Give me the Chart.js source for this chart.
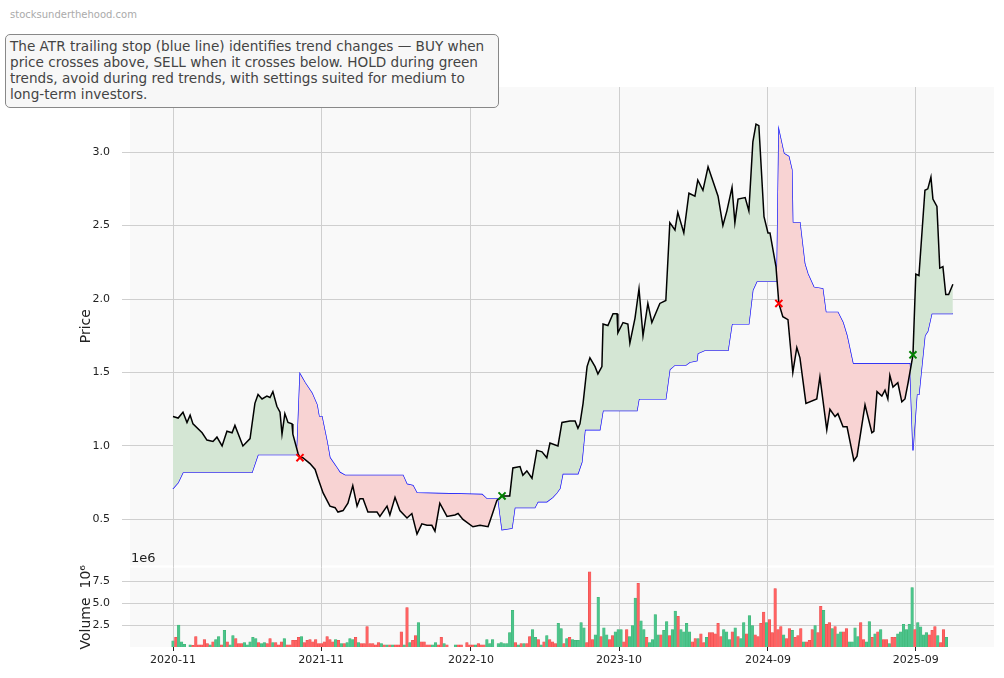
<!DOCTYPE html>
<html><head><meta charset="utf-8">
<script src="https://cdn.jsdelivr.net/npm/chart.js@4"></script>
<style>
body{margin:0;width:1004px;height:678px;background:#fff;position:relative;overflow:hidden;font-family:"DejaVu Sans",sans-serif}
#wm{position:absolute;left:10px;top:9px;font-size:10px;color:#aaa}
#box{position:absolute;left:5px;top:34px;width:484px;height:64px;border:1px solid #888;border-radius:5px;background:#f7f7f7;padding:3px 4px 5px 4px;font-size:13.6px;line-height:16px;color:#444}
#e6{position:absolute;left:131px;top:550px;font-size:13px;color:#222}
canvas{position:absolute;left:0}
</style></head><body>
<div id="wm">stocksunderthehood.com</div>
<canvas id="pc" width="1004" height="584" style="top:0"></canvas>
<canvas id="vc" width="1004" height="129" style="top:549px"></canvas>
<div id="box">The ATR trailing stop (blue line) identifies trend changes — BUY when price crosses above, SELL when it crosses below. HOLD during green trends, avoid during red trends, with settings suited for medium to long-term investors.</div>
<div id="e6">1e6</div>
<script>
// weeks since 2020-11 start
const priceWeeks=[0,1.8,3.5,4.9,6,7,10.2,11.9,14,15.4,17.2,18.9,20.7,21.7,24.5,27,28.7,29.8,31.2,32.9,34,35,36.4,37.5,38.2,39.2,40.3,41.7,42,43.8,44.5,45.5,48,49.8,50.8,52.6,55,56.8,57.8,59.6,61.3,63,64.5,65.5,66.6,68.3,71.5,72.5,75,76,77.8,79.5,82,83.7,85.5,87.2,89,90.7,91.8,93.5,96,98.8,99.9,101.6,105.1,107.6,110.4,111.8,113.5,115.3,118,119.1,121.6,122.6,124,125.8,127.5,129.3,131,132.1,134.9,136.3,139.1,140.9,141.9,142.6,143.7,145.1,146.1,147.9,148.9,150.3,150.7,152.4,154.2,155.6,155.9,157.7,159.4,160.1,161.9,163.3,164.7,166.4,167.8,170.6,172.7,174.1,175.9,176.9,179,180.8,182.9,183.9,185.7,187.5,191,192.7,194.1,195.9,196.9,198,200.5,201.8,203.2,204.3,205.3,207.1,208.5,209.2,211.3,212.3,213.7,215.5,217.2,218.6,219.7,221.8,225.6,226.7,229.1,230.2,232,233,234.8,236.2,238.6,239.7,242.5,244.9,245.6,246.7,248.4,249.5,250.5,251.2,252.3,254,255.4,256.5,257.6,259.3,260.3,261.4,263.5,264.5,265.6,266.3,267.7,268.7,269.8,270.8,271.8,273.3];
const priceVals=[1.20,1.19,1.23,1.16,1.21,1.15,1.09,1.04,1.03,1.06,1.00,1.10,1.09,1.14,1.00,1.05,1.29,1.35,1.32,1.34,1.33,1.37,1.27,1.23,1.08,1.22,1.16,1.15,1.08,0.95,0.92,0.92,0.88,0.84,0.78,0.68,0.59,0.58,0.55,0.56,0.61,0.73,0.59,0.64,0.64,0.55,0.55,0.52,0.59,0.53,0.65,0.56,0.51,0.54,0.40,0.47,0.46,0.46,0.42,0.61,0.52,0.53,0.54,0.50,0.45,0.46,0.45,0.53,0.63,0.66,0.66,0.85,0.86,0.80,0.83,0.78,0.97,0.96,0.92,1.02,1.00,1.16,1.17,1.17,1.12,1.15,1.29,1.54,1.60,1.54,1.49,1.54,1.83,1.82,1.90,1.90,1.77,1.84,1.83,1.70,1.87,2.07,1.75,1.97,1.84,1.97,1.99,2.52,2.47,2.59,2.45,2.72,2.70,2.81,2.74,2.90,2.70,2.50,2.60,2.76,2.52,2.68,2.69,2.60,3.07,3.19,3.18,2.56,2.45,2.45,2.22,1.97,1.88,1.86,1.50,1.67,1.60,1.29,1.32,1.47,1.11,1.25,1.20,1.22,1.13,1.13,0.90,0.93,1.28,1.09,1.10,1.37,1.34,1.38,1.32,1.48,1.40,1.43,1.30,1.32,1.43,1.62,2.17,2.16,2.74,2.75,2.83,2.68,2.63,2.21,2.22,2.03,2.03,2.10];
const stopWeeks=[0,1.8,3.5,27.7,29.8,43.4,44.5,46.3,48.7,50.5,51.2,52.2,54,55,57.5,58.5,60.3,80.6,82,84.1,85.5,108.3,110,113.9,115.3,118.8,119.8,126.8,127.9,131,133.1,134.5,135.6,136.6,141.9,143.3,144.4,149.6,150.7,162.6,163.3,172.7,174.1,175.9,179.7,181.1,183.6,183.9,186.3,194.5,195.9,201.8,203.2,204.6,211.6,212.3,214.1,215.8,216.9,217.2,219.7,221.4,222.5,224.6,227.7,228.8,233,234.8,236.2,238.3,258.2,259.3,260.7,261.4,263.5,264.5,265.9,273.3];
const stopVals=[0.71,0.75,0.82,0.82,0.94,0.94,1.49,1.43,1.36,1.28,1.20,1.20,1.03,0.92,0.85,0.82,0.80,0.80,0.74,0.73,0.68,0.67,0.64,0.64,0.43,0.44,0.58,0.58,0.62,0.62,0.65,0.68,0.71,0.81,0.81,0.89,1.11,1.11,1.24,1.24,1.32,1.32,1.52,1.55,1.55,1.57,1.58,1.63,1.65,1.65,1.83,1.83,2.06,2.12,2.12,3.15,2.99,2.97,2.88,2.52,2.52,2.24,2.17,2.08,2.07,1.91,1.91,1.84,1.75,1.56,1.56,0.97,1.35,1.35,1.75,1.78,1.90,1.90];
const sellWeeks=[44.5,212.3], sellVals=[0.92,1.97];
const buyWeeks=[115.3,259.3], buyVals=[0.66,1.62];
// weekly volume in millions, and direction (u=up week, d=down week)
const volumes=[0.7,1.1,2.5,0.6,0.3,0,0.25,0.2,1.2,0.25,0.25,0.85,0.4,0.25,0.6,0.85,1.2,0.25,1.9,0.6,0.25,1.3,0.95,0.4,0.4,0.5,0.25,0.6,1.1,0.95,0.5,0.4,0.5,0.4,0.95,0.5,0.5,0.25,0.6,0.95,0.25,0.25,0.75,0.75,1.1,1.2,0.5,0.75,0.85,0.6,0.85,0.4,0.4,0.6,1.2,0.85,0.6,0.85,0.75,0.4,0.4,0.5,0.95,0.85,1.1,0.5,0.4,0.4,2.35,0.4,0.4,0.25,0.5,0.4,0.25,0.25,0.25,0.25,0.25,0.25,1.75,0.25,4.5,0.5,0.75,1.3,2.8,0.6,0.6,0.25,0.25,0.25,0.5,0.25,1.1,0.4,0.25,0,0,0.25,0.25,0.25,0,0.5,0.25,0.25,0.25,0.4,0.25,0.25,0.85,0.4,0.85,0,0.4,0.5,0.4,0.4,1.65,4.2,0.5,0.25,0.4,0.4,0.4,1.2,2.0,1.1,0.85,0.25,0.6,1.3,0.85,0.6,0.4,2.7,2.1,0.4,0.95,1.1,0.85,0.75,0.75,2.8,2.2,0.5,8.6,0.85,1.4,5.7,1.2,2.2,1.4,0.85,1.3,1.75,2.0,2.0,0.6,2.0,1.2,2.45,5.6,7.3,3.0,2.0,1.1,0.5,0.85,3.7,1.4,1.4,1.9,2.9,1.3,2.0,4.1,3.5,2.0,1.75,2.7,1.75,0.6,0.95,0.95,1.5,0.5,1.1,1.65,1.65,1.5,2.7,1.2,2.0,1.75,0.85,1.75,2.2,1.2,0.95,2.8,1.5,3.6,2.45,1.4,1.2,2.7,4.0,2.8,3.15,1.65,6.7,2.0,2.35,1.4,0.95,2.1,1.9,1.1,1.3,2.1,0.6,0.6,0.75,2.0,2.45,1.65,4.65,4.2,2.6,2.8,2.1,2.35,1.5,1.75,1.75,2.1,0.6,0.6,2.2,1.2,2.8,0.85,0.6,2.9,1.1,1.5,1.75,2.0,0.85,0.85,0.4,1.1,1.1,1.5,1.75,2.6,2.0,2.6,6.8,2.0,2.8,2.3,1.4,1.65,1.4,1.9,2.35,1.3,0.5,2.0,1.1];
const volDir="uduuuuuddd"+"ddduduudud"+"uuddduuuuu"+"duuddudddu"+"dddddudddd"+"dddddddudu"+"duuududddd"+"dddudududd"+"dududduddd"+"duuddudddu"+
 "dddddduddd"+"uuuuuuuuuu"+"dududduudu"+"duddduudud"+"uuuuuddduu"+"duudduuudd"+"uuuduuduuu"+"uduuduuduu"+"uudduddudd"+"ddduuududu"+
 "uduuddddud"+"dddduddudd"+"duddduddud"+"duduudduuu"+"udduududud"+"dudduuuuuu"+"duuuuddduddu";
const tickWeeks=[0,51.9,104.4,156.3,208.5,260.3];
const tickLabels=["2020-11","2021-11","2022-10","2023-10","2024-09","2025-09"];

const XMIN=-15.07,XMAX=287.7;
const F="'DejaVu Sans', sans-serif";
const bgPlugin={id:'bg',beforeDraw(c){const a=c.chartArea,x=c.ctx;x.save();x.fillStyle='#f9f9f9';x.fillRect(a.left,a.top,a.right-a.left,a.bottom-a.top);x.restore();}};
const xy=(xs,ys)=>xs.map((v,i)=>({x:v,y:ys[i]}));
const xTicks=(ax)=>{ax.ticks=tickWeeks.map(v=>({value:v}));};
const grid={color:'#cfcfcf',lineWidth:1,offset:false};

new Chart(document.getElementById('pc'),{
 type:'line',
 data:{datasets:[
  {data:xy(priceWeeks,priceVals),borderColor:'#000',borderWidth:1.5,pointRadius:0,tension:0,
   fill:{target:1,above:'#d4e6d4',below:'#f8d3d3'},order:2},
  {data:xy(stopWeeks,stopVals),borderColor:'#0000ff',borderWidth:1.2,pointRadius:0,tension:0,fill:false,order:3},
  {type:'scatter',data:xy(sellWeeks,sellVals),pointStyle:'crossRot',pointRadius:5,borderColor:'#ff0000',borderWidth:2,order:0},
  {type:'scatter',data:xy(buyWeeks,buyVals),pointStyle:'crossRot',pointRadius:5,borderColor:'#008000',borderWidth:2,order:0}
 ]},
 options:{responsive:false,animation:false,layout:{autoPadding:false,padding:{top:87,right:10,bottom:0,left:78}},
  plugins:{legend:{display:false},tooltip:{enabled:false}},
  scales:{
   x:{type:'linear',min:XMIN,max:XMAX,afterBuildTicks:xTicks,grid:grid,border:{display:false},ticks:{display:false},afterFit(a){a.height=1;}},
   y:{min:0.187,max:3.443,afterBuildTicks(a){a.ticks=[0.5,1,1.5,2,2.5,3].map(v=>({value:v}));},
      grid:grid,border:{display:false},
      ticks:{color:'#222',font:{family:F,size:11},callback:v=>v.toFixed(1),padding:12},
      title:{display:true,text:'Price',color:'#222',font:{family:F,size:14},padding:0},
      afterFit(a){a.width=52;}}
  }},
 plugins:[bgPlugin]
});

const vdata=volumes.map((v,i)=>({x:i,y:v}));
new Chart(document.getElementById('vc'),{
 type:'bar',
 data:{datasets:[{data:vdata,barThickness:2.6,
  backgroundColor:volumes.map((v,i)=>volDir[i]==='d'?'#ff6262':'#4cc48c'),
  borderColor:volumes.map((v,i)=>volDir[i]==='d'?'#e84a4a':'#3cb371'),borderWidth:0.5}]},
 options:{responsive:false,animation:false,layout:{autoPadding:false,padding:{top:0,right:10,bottom:0,left:78}},
  plugins:{legend:{display:false},tooltip:{enabled:false}},
  scales:{
   x:{type:'linear',offset:false,min:XMIN,max:XMAX,afterBuildTicks:xTicks,grid:Object.assign({},grid,{tickLength:4,tickColor:'#222'}),border:{display:false},
      ticks:{color:'#222',font:{family:F,size:11},callback:(v)=>{const i=tickWeeks.indexOf(v);return i>=0?tickLabels[i]:'';},maxRotation:0,autoSkip:false,padding:3},
      afterFit(a){a.height=31;}},
   y:{min:0,max:9.09,afterBuildTicks(a){a.ticks=[2.5,5,7.5].map(v=>({value:v}));},
      grid:grid,border:{display:false},
      ticks:{color:'#222',font:{family:F,size:11},callback:v=>v.toFixed(1),padding:12},
      title:{display:true,text:'Volume  10⁶',color:'#222',font:{family:F,size:14},padding:0},
      afterFit(a){a.width=52;}}
  }},
 plugins:[bgPlugin]
});
</script>
</body></html>
